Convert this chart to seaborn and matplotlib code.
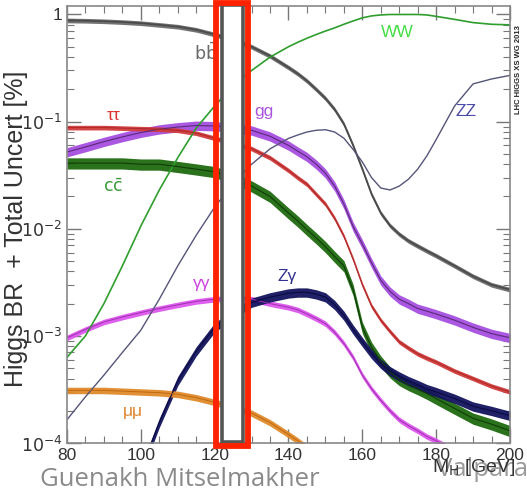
import numpy as np
import pandas as pd
import matplotlib
matplotlib.use("Agg")
import matplotlib.pyplot as plt
from matplotlib.patches import Rectangle
from matplotlib.ticker import FixedLocator, FixedFormatter, LogLocator, NullFormatter, MultipleLocator
import seaborn as sns

# ---------------- data ----------------
mass = [80, 85, 90, 95, 100, 105, 110, 115, 120, 125, 130, 135, 140,
        142.5, 145, 147.5, 150, 152.5, 155, 157.5, 160, 162.5, 165, 167.5, 170, 172.5, 175, 177.5,
        180, 185, 190, 195, 200]

br_bb = [0.88, 0.875, 0.865, 0.85, 0.83, 0.80, 0.77, 0.72, 0.65, 0.58, 0.50, 0.41, 0.32,
         0.28, 0.24, 0.20, 0.165, 0.13, 0.095, 0.060, 0.036, 0.021, 0.0140, 0.0107, 0.0089,
         0.0077, 0.0069, 0.0062,
         0.0056, 0.0045, 0.0036, 0.0030, 0.0027]
br_ww = [6.3e-4, 1.0e-3, 2.0e-3, 4.5e-3, 0.0106, 0.023, 0.046, 0.087, 0.14, 0.215, 0.30, 0.40, 0.50,
         0.55, 0.60, 0.65, 0.70, 0.75, 0.81, 0.87, 0.93, 0.97, 0.99, 1.0, 1.0, 1.0, 1.0, 0.99,
         0.96, 0.90, 0.84, 0.81, 0.80]
br_zz = [1.65e-4, 2.7e-4, 4.3e-4, 7.0e-4, 1.13e-3, 2.2e-3, 4.5e-3, 8.7e-3, 0.0159, 0.0264, 0.040,
         0.0557, 0.0697,
         0.075, 0.080, 0.083, 0.084, 0.080, 0.070, 0.055, 0.042, 0.030, 0.024, 0.023, 0.025,
         0.029, 0.036, 0.048,
         0.068, 0.14, 0.225, 0.25, 0.27]
br_gg = [0.052, 0.058, 0.065, 0.072, 0.079, 0.085, 0.089, 0.092, 0.091, 0.088, 0.083, 0.073, 0.060,
         0.053, 0.047, 0.040, 0.033, 0.025, 0.017, 0.0105, 0.0072, 0.0048, 0.0033, 0.0026, 0.0022,
         0.0020, 0.0018, 0.0017,
         0.0016, 0.0014, 0.0012, 0.00105, 0.00096]
br_tautau = [0.088, 0.088, 0.088, 0.087, 0.086, 0.085, 0.083, 0.078, 0.070, 0.063, 0.056, 0.046,
             0.035,
             0.030, 0.026, 0.021, 0.017, 0.0125, 0.0085, 0.0052, 0.0030, 0.0019, 0.0014, 0.0011,
             0.00088, 0.00077, 0.00068, 0.00062,
             0.00057, 0.00047, 0.00040, 0.00034, 0.00030]
br_cc = [0.041, 0.041, 0.041, 0.041, 0.040, 0.040, 0.038, 0.036, 0.034, 0.030, 0.025, 0.020, 0.014,
         0.0118, 0.0098, 0.0082, 0.0068, 0.0055, 0.0045, 0.0027, 0.0012, 0.00078, 0.00058,
         0.00046, 0.00039, 0.00035, 0.00032, 0.00029,
         0.00026, 0.00021, 0.00017, 0.00015, 0.00013]
br_gamgam = [9.6e-4, 1.15e-3, 1.35e-3, 1.5e-3, 1.65e-3, 1.8e-3, 1.95e-3, 2.1e-3, 2.2e-3, 2.25e-3,
             2.2e-3, 2.0e-3, 1.85e-3,
             1.75e-3, 1.6e-3, 1.45e-3, 1.3e-3, 1.08e-3, 8.5e-4, 6.3e-4, 4.3e-4, 3.2e-4, 2.5e-4,
             2.0e-4, 1.65e-4, 1.45e-4, 1.3e-4, 1.15e-4,
             1.05e-4, 8.5e-5, 7.0e-5, 6.0e-5, 5.0e-5]
br_zgam = [np.nan, np.nan, np.nan, np.nan, 5.5e-5, 1.55e-4, 3.8e-4, 7.2e-4, 1.2e-3, 1.6e-3,
           2.05e-3, 2.3e-3, 2.5e-3,
           2.55e-3, 2.55e-3, 2.45e-3, 2.3e-3, 1.95e-3, 1.55e-3, 1.15e-3, 8.8e-4, 6.8e-4, 5.5e-4,
           4.7e-4, 4.2e-4, 3.8e-4, 3.5e-4, 3.2e-4,
           3.0e-4, 2.6e-4, 2.2e-4, 2.0e-4, 1.8e-4]
br_mumu = [3.1e-4, 3.1e-4, 3.1e-4, 3.05e-4, 3.0e-4, 2.95e-4, 2.85e-4, 2.65e-4, 2.4e-4, 2.15e-4,
           1.9e-4, 1.55e-4, 1.2e-4,
           1.05e-4, 9.0e-5, 7.5e-5, 6.0e-5, np.nan, np.nan, np.nan, np.nan, np.nan, np.nan,
           np.nan, np.nan, np.nan, np.nan, np.nan,
           np.nan, np.nan, np.nan, np.nan, np.nan]

channels = ["bb", "WW", "ZZ", "gg", "tautau", "cc", "gamgam", "Zgam", "mumu"]
labels = [r"$\mathrm{b\bar{b}}$", "WW", "ZZ", "gg", "ττ", r"$\mathrm{c\bar{c}}$", "γγ", "Zγ", "μμ"]
values = [br_bb, br_ww, br_zz, br_gg, br_tautau, br_cc, br_gamgam, br_zgam, br_mumu]

yticks = [1e-4, 1e-3, 1e-2, 1e-1, 1]
ytick_labels = [r"$10^{-4}$", r"$10^{-3}$", r"$10^{-2}$", r"$10^{-1}$", "1"]
xticks = [80, 100, 120, 140, 160, 180, 200]

# ---------------- styles ----------------
line_color = {"bb": "#4a4a4a", "WW": "#2f9e2f", "ZZ": "#55557a", "gg": "#5a2a7a",
              "tautau": "#b02a2a", "cc": "#0f3d05", "gamgam": "#a030b0", "Zgam": "#0a0a45",
              "mumu": "#c06a10"}
band_color = {"bb": "#6a6a6a", "WW": "#2f9e2f", "ZZ": "#55557a", "gg": "#a64fe0",
              "tautau": "#d23c3c", "cc": "#1f6a10", "gamgam": "#dd55ee", "Zgam": "#14145e",
              "mumu": "#e08a2a"}
band_rel = {"bb": 0.05, "WW": 0.0, "ZZ": 0.0, "gg": 0.10, "tautau": 0.05, "cc": 0.12,
            "gamgam": 0.06, "Zgam": 0.10, "mumu": 0.07}
lw = {"bb": 1.2, "WW": 1.2, "ZZ": 1.0, "gg": 0.8, "tautau": 0.8, "cc": 0.8, "gamgam": 0.7,
      "Zgam": 0.8, "mumu": 0.7}
label_color = {"bb": "#6a6a6a", "WW": "#44dd44", "ZZ": "#4a4aaa", "gg": "#aa55dd",
               "tautau": "#dd3333", "cc": "#3a9a3a", "gamgam": "#cc44dd", "Zgam": "#33338f",
               "mumu": "#dd8833"}
label_pos = {"bb": (117.5, 0.44), "WW": (169.4, 0.68), "ZZ": (188.1, 0.124), "gg": (133.4, 0.124),
             "tautau": (92.6, 0.114), "cc": (92.6, 0.0252), "gamgam": (116.6, 3.1e-3),
             "Zgam": (139.6, 3.6e-3), "mumu": (97.9, 1.95e-4)}

# ---------------- figure ----------------
sns.set_style("ticks")
plt.rcParams["font.family"] = ["Liberation Sans", "DejaVu Sans"]
plt.rcParams["mathtext.fontset"] = "dejavusans"

fig = plt.figure(figsize=(5.27, 4.95), dpi=100)
ax = fig.add_axes([67 / 527, 52 / 495, 443 / 527, 437 / 495])

rows = []
for ch, vals in zip(channels, values):
    for m, v in zip(mass, vals):
        rows.append({"mass": m, "br": v, "channel": ch})
df = pd.DataFrame(rows)

m_arr = np.array(mass, dtype=float)
for ch, vals in zip(channels, values):
    v = np.array(vals, dtype=float)
    r = band_rel[ch]
    if r > 0:
        ax.fill_between(m_arr, v * (1 - r), v * (1 + r), color=band_color[ch], lw=0, alpha=0.95)
    sub = df[df["channel"] == ch]
    sns.lineplot(data=sub, x="mass", y="br", ax=ax, color=line_color[ch], lw=lw[ch],
                 legend=False, estimator=None)

ax.set_yscale("log")
ax.set_xlim(80, 200)
ax.set_ylim(1e-4, 1.2)

for ch, lab in zip(channels, labels):
    x, y = label_pos[ch]
    ax.text(x, y, lab, color=label_color[ch], fontsize=12.5, ha="center", va="center")

# axes styling (ROOT-like)
ax.yaxis.set_major_locator(FixedLocator(yticks))
ax.yaxis.set_major_formatter(FixedFormatter(ytick_labels))
ax.yaxis.set_minor_locator(LogLocator(base=10, subs=np.arange(2, 10)))
ax.yaxis.set_minor_formatter(NullFormatter())
ax.xaxis.set_major_locator(FixedLocator(xticks))
ax.xaxis.set_minor_locator(MultipleLocator(5))
ax.tick_params(which="both", direction="in", top=True, right=True, colors="#777777",
               labelcolor="#333333", labelsize=12.5)
ax.tick_params(which="major", length=10, width=1.0)
ax.tick_params(which="minor", length=5, width=0.8)
for s in ax.spines.values():
    s.set_color("#888888")
    s.set_linewidth(1.2)
ax.set_xlabel("")
ax.set_ylabel("Higgs BR  + Total Uncert [%]", fontsize=18, color="#333333")
ax.yaxis.set_label_coords(-0.088, 0.49)

# side texts
fig.text(519 / 527, 1 - 70 / 495, "LHC HIGGS XS WG 2013", rotation=90, fontsize=5.5,
         fontweight="bold", ha="center", va="center", color="#222222")
fig.text(437 / 527, 1 - 470 / 495, "Valparaíso", fontsize=18.5, color="#8a8a8a",
         family="Open Sans", ha="left", va="center", alpha=0.85)
fig.text(432 / 527, 1 - 467 / 495, r"M$_\mathrm{H}$ [GeV]", fontsize=14, color="#333333",
         ha="left", va="center")
fig.text(40 / 527, 1 - 480 / 495, "Guenakh Mitselmakher", fontsize=18.5, color="#8a8a8a",
         family="Open Sans", ha="left", va="center")

# Higgs mass window box (white inside, hides the curves)
fig.patches.append(Rectangle((222 / 527, 1 - 442 / 495), 21 / 527, 437 / 495,
                             transform=fig.transFigure, facecolor="white", edgecolor="#555555",
                             lw=2.6, zorder=9))
# red highlight box
fig.patches.append(Rectangle((215.5 / 527, 1 - 445.5 / 495), 32 / 527, 443 / 495,
                             transform=fig.transFigure, fill=False, edgecolor="#ff2200",
                             lw=4.2, zorder=10))

fig.savefig("out.png", dpi=100)
